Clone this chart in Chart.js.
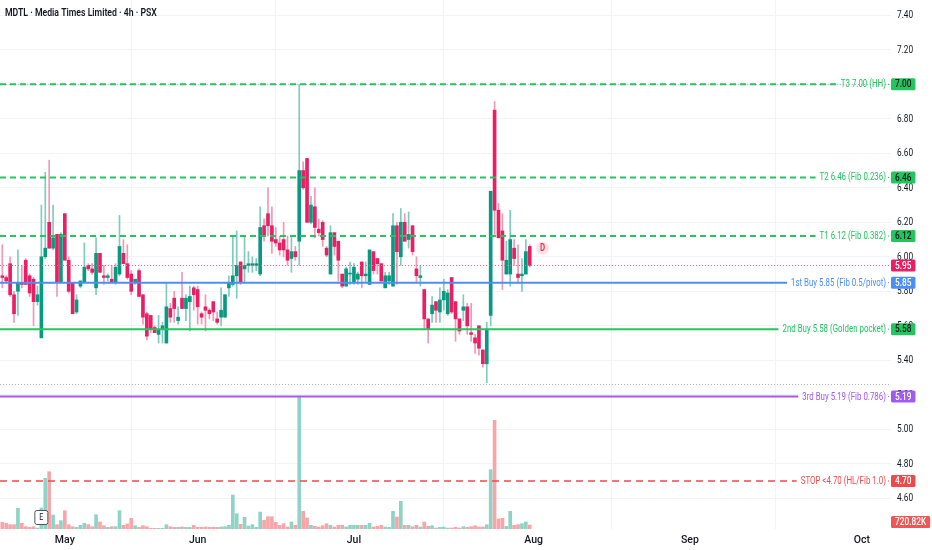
<!DOCTYPE html>
<html lang="en">
<head>
<meta charset="UTF-8">
<title>MDTL 4h</title>
<script src="https://cdn.jsdelivr.net/npm/chart.js@4.4.1/dist/chart.umd.min.js"></script>
<style>
  body { margin: 0; background: #fff; }
  #wrap { width: 932px; height: 550px; }
</style>
</head>
<body>
<div id="wrap"><canvas id="mdtl" width="932" height="550"></canvas></div>
<script>
// ---- data ----
const title = 'MDTL \u00b7 Media Times Limited \u00b7 4h \u00b7 PSX';

const months = ['May', 'Jun', 'Jul', 'Aug', 'Sep', 'Oct'];
const monthBars = [16, 50, 90, 136, 176, 220];   // bar index where each month starts
const priceTicks = [4.6, 4.8, 5.0, 5.2, 5.4, 5.6, 5.8, 6.0, 6.2, 6.4, 6.6, 6.8, 7.0, 7.2, 7.4];

const opens = [
  5.89, 5.88, 5.96, 5.78, 5.80, 5.85, 5.98, 5.89, 5.87, 5.74,
  5.53, 6.00, 6.20, 6.05, 6.13, 5.85, 6.25, 5.98, 5.85, 5.68,
  5.83, 5.85, 5.95, 5.93, 5.82, 6.02, 5.89, 5.88, 5.87, 5.85,
  5.90, 6.02, 5.96, 5.90, 5.85, 5.92, 5.78, 5.67, 5.66, 5.59,
  5.55, 5.58, 5.50, 5.70, 5.76, 5.63, 5.76, 5.70, 5.74, 5.82,
  5.81, 5.67, 5.71, 5.69, 5.74, 5.64, 5.65, 5.65, 5.82, 5.84,
  5.89, 5.97, 5.93, 5.95, 5.95, 5.95, 5.90, 6.18, 6.25, 6.18,
  6.10, 6.08, 6.10, 6.04, 5.99, 6.03, 6.09, 6.50, 6.57, 6.20,
  6.29, 6.16, 6.20, 6.05, 5.90, 6.14, 6.09, 5.90, 5.83, 5.90,
  5.85, 5.87, 5.97, 5.89, 5.84, 6.03, 5.99, 5.96, 5.82, 5.86,
  5.83, 6.18, 6.00, 6.20, 6.10, 6.18, 5.93, 5.88, 5.81, 5.64,
  5.67, 5.74, 5.68, 5.75, 5.67, 5.88, 5.74, 5.64, 5.69, 5.71,
  5.56, 5.53, 5.60, 5.46, 5.38, 5.66, 6.85, 6.27, 6.15, 5.90,
  5.90, 6.05, 5.90, 5.89, 5.90, 6.06
];
const highs = [
  6.07, 5.89, 6.00, 5.80, 6.04, 5.95, 5.99, 5.90, 5.88, 5.83,
  6.30, 6.49, 6.56, 6.30, 6.13, 6.14, 6.25, 6.00, 5.85, 5.78,
  5.86, 6.08, 5.96, 5.96, 6.11, 6.02, 5.95, 5.90, 5.95, 5.96,
  6.24, 6.10, 6.07, 5.92, 5.87, 5.93, 5.78, 5.68, 5.66, 5.60,
  5.66, 5.62, 5.85, 5.73, 5.80, 5.71, 5.91, 5.78, 5.83, 5.83,
  5.83, 5.68, 5.78, 5.70, 5.74, 5.68, 5.82, 5.78, 5.89, 6.12,
  6.15, 5.97, 6.12, 6.03, 6.00, 5.99, 6.29, 6.22, 6.40, 6.29,
  6.17, 6.12, 6.20, 6.12, 6.12, 6.06, 7.00, 6.55, 6.57, 6.35,
  6.40, 6.22, 6.21, 6.06, 6.18, 6.14, 6.09, 5.90, 5.94, 5.97,
  5.96, 5.91, 5.97, 5.97, 6.04, 6.03, 5.99, 5.96, 5.91, 5.91,
  6.25, 6.20, 6.28, 6.25, 6.26, 6.18, 6.00, 5.95, 5.81, 5.64,
  5.77, 5.74, 5.82, 5.87, 5.81, 5.88, 5.74, 5.64, 5.78, 5.73,
  5.73, 5.55, 5.60, 5.46, 5.62, 6.38, 6.90, 6.31, 6.25, 6.09,
  6.27, 6.10, 6.07, 5.99, 6.10, 6.07
];
const lows = [
  5.82, 5.85, 5.77, 5.62, 5.66, 5.82, 5.84, 5.77, 5.60, 5.72,
  5.53, 5.99, 6.05, 6.04, 5.77, 5.85, 5.98, 5.79, 5.67, 5.67,
  5.82, 5.85, 5.92, 5.90, 5.78, 5.91, 5.84, 5.86, 5.85, 5.84,
  5.89, 5.96, 5.87, 5.78, 5.84, 5.77, 5.61, 5.52, 5.56, 5.56,
  5.50, 5.50, 5.50, 5.62, 5.62, 5.61, 5.70, 5.63, 5.57, 5.69,
  5.61, 5.61, 5.57, 5.64, 5.63, 5.61, 5.60, 5.65, 5.77, 5.83,
  5.76, 5.84, 5.85, 5.91, 5.91, 5.92, 5.89, 6.09, 6.12, 6.02,
  6.06, 6.01, 6.00, 5.95, 5.91, 5.98, 5.95, 6.39, 6.20, 6.19,
  6.11, 6.12, 6.06, 6.00, 5.90, 6.01, 5.86, 5.82, 5.83, 5.84,
  5.84, 5.84, 5.82, 5.85, 5.84, 5.90, 5.90, 5.85, 5.82, 5.84,
  5.83, 5.84, 5.95, 6.09, 6.05, 6.01, 5.85, 5.83, 5.58, 5.50,
  5.62, 5.62, 5.62, 5.69, 5.66, 5.67, 5.51, 5.55, 5.63, 5.55,
  5.51, 5.44, 5.43, 5.36, 5.27, 5.60, 6.13, 6.11, 5.81, 5.90,
  5.83, 5.95, 5.85, 5.80, 5.90, 5.94
];
const closes = [
  5.88, 5.86, 5.78, 5.67, 5.85, 5.84, 5.84, 5.79, 5.74, 5.78,
  6.00, 6.05, 6.05, 6.11, 5.85, 6.13, 5.98, 5.80, 5.67, 5.75,
  5.86, 5.94, 5.93, 5.91, 6.02, 5.91, 5.88, 5.89, 5.85, 5.94,
  6.06, 5.96, 5.88, 5.80, 5.87, 5.77, 5.65, 5.54, 5.58, 5.56,
  5.58, 5.60, 5.71, 5.65, 5.70, 5.65, 5.70, 5.76, 5.77, 5.78,
  5.71, 5.65, 5.69, 5.67, 5.68, 5.62, 5.69, 5.78, 5.85, 5.89,
  5.95, 5.85, 5.95, 5.96, 5.96, 5.96, 6.17, 6.12, 6.18, 6.09,
  6.08, 6.04, 6.04, 5.98, 6.03, 6.00, 6.50, 6.40, 6.20, 6.30,
  6.17, 6.14, 6.10, 6.01, 6.14, 6.06, 5.98, 5.83, 5.93, 5.90,
  5.94, 5.90, 5.89, 5.90, 6.04, 5.92, 5.96, 5.86, 5.89, 5.89,
  6.18, 6.03, 6.20, 6.09, 6.13, 6.03, 5.89, 5.89, 5.64, 5.58,
  5.72, 5.69, 5.75, 5.80, 5.79, 5.68, 5.64, 5.57, 5.71, 5.60,
  5.55, 5.50, 5.47, 5.38, 5.58, 6.38, 6.27, 6.11, 5.98, 5.98,
  6.10, 5.99, 5.88, 5.90, 6.03, 5.95
];
// volume in thousands of shares
const volumes = [
  1206, 1026, 774, 774, 3726, 1026, 414, 306, 414, 180,
  3780, 9126, 10314, 2520, 774, 1494, 3294, 774, 414, 306,
  666, 1026, 774, 414, 2574, 1260, 594, 306, 414, 414,
  3294, 666, 900, 1926, 594, 306, 594, 414, 126, 126,
  126, 126, 774, 414, 306, 306, 360, 306, 306, 666,
  306, 306, 360, 306, 306, 306, 360, 414, 666, 6120,
  2754, 846, 2106, 540, 774, 306, 3060, 1566, 2214, 2214,
  1206, 666, 954, 360, 1260, 666, 23706, 3186, 1980, 666,
  486, 360, 594, 954, 666, 360, 666, 666, 360, 666,
  666, 666, 666, 666, 1026, 360, 486, 666, 360, 306,
  3186, 2160, 4986, 666, 666, 414, 666, 360, 1260, 486,
  594, 180, 306, 360, 180, 180, 306, 180, 414, 306,
  414, 594, 360, 360, 774, 10674, 19566, 1800, 1926, 486,
  3186, 666, 774, 954, 1260, 720.82
];
const lastVolumeText = '720.82K';

const levelPrices = [7.00, 6.46, 6.12, 5.85, 5.58, 5.19, 4.70];
const levelTexts = [
  'T3 7.00 (HH)',
  'T2 6.46 (Fib 0.236)',
  'T1 6.12 (Fib 0.382)',
  '1st Buy 5.85 (Fib 0.5/pivot)',
  '2nd Buy 5.58 (Golden pocket)',
  '3rd Buy 5.19 (Fib 0.786)',
  'STOP <4.70 (HL/Fib 1.0)'
];
const lastPrice = 5.95;
const swingHigh = 7.00, swingLow = 5.265;
const dividendBar = 138.3, dividendPrice = 6.05;
const earningsBar = 10;

// ---- styles ----
const UP = '#089981', DOWN = '#e91e63';
const UP_WICK = '#7fcbbd', DOWN_WICK = '#f497b2';
const VOL_UP = '#8fd3c6', VOL_DOWN = '#f7a5a8';
const GREEN = '#22c55e', BLUE = '#4a8ef6', PURPLE = '#a05af0', RED = '#f04848';
const levelStyle = [
  { color: GREEN, width: 2, dash: [6, 4], text: '#131722' },
  { color: GREEN, width: 2, dash: [6, 4], text: '#131722' },
  { color: GREEN, width: 2, dash: [6, 4], text: '#131722' },
  { color: BLUE, width: 2, dash: [], text: '#fff' },
  { color: GREEN, width: 2, dash: [], text: '#131722' },
  { color: PURPLE, width: 2, dash: [], text: '#fff' },
  { color: RED, width: 1.5, dash: [7, 5], text: '#fff' }
];
const SQ = 0.79;   // narrow glyphs like the screenshot
const LABEL_FONT = '10px Roboto';
const AXIS_FONT = '10.5px Roboto';

const isUp = opens.map((o, i) => closes[i] >= o);

function sqText(ctx, text, x, y, align, font, color) {
  ctx.save();
  ctx.font = font;
  ctx.fillStyle = color;
  ctx.textBaseline = 'middle';
  ctx.textAlign = 'left';
  const w = ctx.measureText(text).width * SQ;
  const left = align === 'right' ? x - w : align === 'center' ? x - w / 2 : x;
  ctx.translate(left, y);
  ctx.scale(SQ, 1);
  ctx.fillText(text, 0, 0);
  ctx.restore();
  return w;
}

function badge(ctx, text, left, cy, bg, fg) {
  ctx.save();
  ctx.font = '500 10.5px Roboto';
  const w = ctx.measureText(text).width * SQ + 8;
  ctx.fillStyle = bg;
  ctx.beginPath();
  ctx.roundRect(left, cy - 6, w, 12, 1.5);
  ctx.fill();
  ctx.restore();
  sqText(ctx, text, left + w / 2, cy + 0.5, 'center', '500 10.5px Roboto', fg);
}

const overlay = {
  id: 'overlay',
  afterDatasetsDraw(chart) {
    const { ctx, chartArea: a, scales: { x, y } } = chart;
    ctx.save();
    // high / low dotted guides
    ctx.strokeStyle = '#b2b5be';
    ctx.lineWidth = 1;
    ctx.setLineDash([1, 2]);
    [swingHigh, swingLow].forEach(p => {
      const py = Math.round(y.getPixelForValue(p)) + 0.5;
      ctx.beginPath(); ctx.moveTo(a.left, py); ctx.lineTo(a.right, py); ctx.stroke();
    });
    // last price line
    ctx.strokeStyle = '#f06292';
    const lp = Math.round(y.getPixelForValue(lastPrice)) + 0.5;
    ctx.beginPath(); ctx.moveTo(a.left, lp); ctx.lineTo(a.right, lp); ctx.stroke();

    // horizontal levels with labels
    levelPrices.forEach((p, k) => {
      const st = levelStyle[k];
      const py = y.getPixelForValue(p);
      ctx.font = LABEL_FONT;
      const w = ctx.measureText(levelTexts[k]).width * SQ;
      const right = a.right - 5;
      ctx.strokeStyle = st.color;
      ctx.lineWidth = st.width;
      ctx.setLineDash(st.dash);
      ctx.beginPath(); ctx.moveTo(a.left, py); ctx.lineTo(right - w - 4, py); ctx.stroke();
      ctx.setLineDash([1, 2]);
      ctx.lineWidth = 1;
      ctx.beginPath(); ctx.moveTo(right + 2, py); ctx.lineTo(a.right, py); ctx.stroke();
      sqText(ctx, levelTexts[k], right, py + 0.5, 'right', LABEL_FONT, st.color);
    });
    ctx.setLineDash([]);

    // dividend marker
    const dx = x.getPixelForValue(dividendBar), dy = y.getPixelForValue(dividendPrice);
    ctx.fillStyle = '#fde2e8';
    ctx.beginPath(); ctx.arc(dx, dy, 6.5, 0, Math.PI * 2); ctx.fill();
    sqText(ctx, 'D', dx, dy + 0.5, 'center', 'bold 10px Roboto', '#f23645');

    // earnings marker
    const ex = x.getPixelForValue(earningsBar);
    ctx.fillStyle = '#fff';
    ctx.strokeStyle = '#50535e';
    ctx.lineWidth = 1;
    ctx.beginPath(); ctx.roundRect(ex - 6.5, a.bottom - 18.5, 13, 14, 2); ctx.fill(); ctx.stroke();
    sqText(ctx, 'E', ex, a.bottom - 11, 'center', '9px Roboto', '#131722');
    ctx.restore();
  },
  afterDraw(chart) {
    const { ctx, chartArea: a, scales: { y, vol } } = chart;
    // price axis labels, placed by the y scale
    y.ticks.forEach(t => {
      sqText(ctx, t.value.toFixed(2), a.right + 6, y.getPixelForValue(t.value) + 0.5, 'left', AXIS_FONT, '#131722');
    });
    levelPrices.forEach((p, k) => {
      badge(ctx, p.toFixed(2), a.right, y.getPixelForValue(p), levelStyle[k].color, levelStyle[k].text);
    });
    badge(ctx, lastPrice.toFixed(2), a.right, y.getPixelForValue(lastPrice), DOWN, '#fff');
    const vy = Math.min(vol.getPixelForValue(volumes[volumes.length - 1]), a.bottom - 7);
    badge(ctx, lastVolumeText, a.right, vy, '#f05656', '#fff');
    sqText(ctx, title, 5, 13, 'left', '600 11px Roboto', '#131722');
  }
};

const bodyData = opens.map((o, i) => ({ x: i, y: [o, closes[i]] }));
const wickData = lows.map((l, i) => ({ x: i, y: [l, highs[i]] }));
const volData = volumes.map((v, i) => ({ x: i, y: v }));

new Chart(document.getElementById('mdtl'), {
  type: 'bar',
  data: {
    datasets: [
      {
        data: volData, yAxisID: 'vol', order: 3,
        backgroundColor: isUp.map(u => u ? VOL_UP : VOL_DOWN),
        barThickness: 3, grouped: false
      },
      {
        data: wickData, yAxisID: 'y', order: 2,
        backgroundColor: isUp.map(u => u ? UP_WICK : DOWN_WICK),
        barThickness: 1, grouped: false
      },
      {
        data: bodyData, yAxisID: 'y', order: 1,
        backgroundColor: isUp.map(u => u ? UP : DOWN),
        barThickness: 3, minBarLength: 1, grouped: false
      }
    ]
  },
  options: {
    responsive: false,
    animation: false,
    events: [],
    layout: { padding: 0 },
    plugins: { legend: { display: false }, tooltip: { enabled: false } },
    scales: {
      x: {
        type: 'linear', min: -0.589, max: 227.46, offset: false,
        afterBuildTicks: s => { s.ticks = monthBars.map(v => ({ value: v })); },
        afterFit: s => { s.height = 21; },
        grid: { color: '#f2f3f6', drawTicks: false },
        border: { display: false },
        ticks: {
          autoSkip: false, maxRotation: 0, padding: 5, color: '#131722',
          font: { family: 'Roboto', size: 10.5, weight: '500' },
          callback: (v, i) => months[i]
        }
      },
      y: {
        position: 'right', min: 4.422, max: 7.4887,
        afterBuildTicks: s => { s.ticks = priceTicks.map(v => ({ value: v })); },
        afterFit: s => { s.width = 41; },
        grid: { color: '#f2f3f6', drawTicks: false },
        border: { display: false },
        ticks: { display: false }
      },
      vol: { display: false, min: 0, max: 95220 }
    }
  },
  plugins: [overlay]
});
</script>
</body>
</html>
